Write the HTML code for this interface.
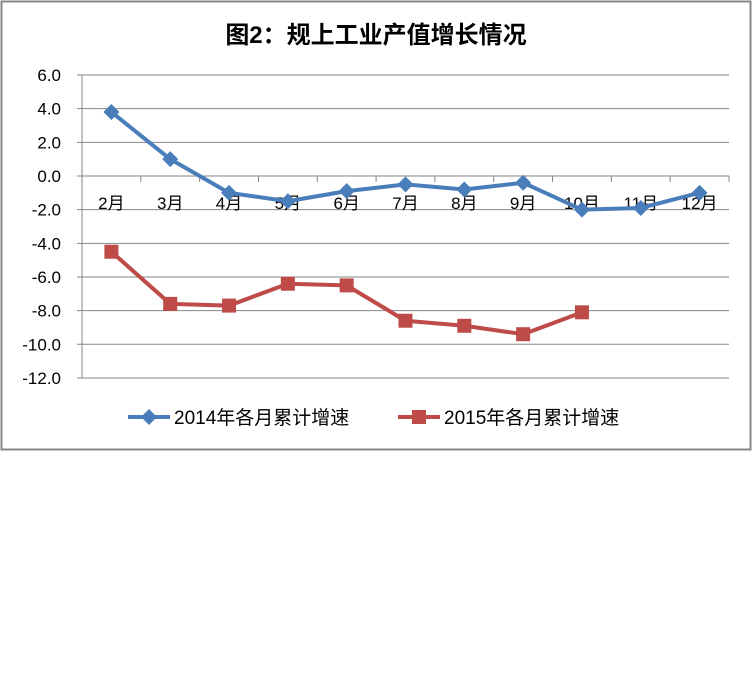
<!DOCTYPE html><html><head><meta charset="utf-8"><style>body{margin:0;background:#fff}svg{display:block}</style></head><body>
<svg id="s" width="753" height="674" xmlns="http://www.w3.org/2000/svg" font-family="Liberation Sans, Noto Sans CJK SC, sans-serif">
<rect x="1.5" y="1.5" width="749" height="448" fill="#fff" stroke="#868686" stroke-width="2"/>
<text x="376" y="43" text-anchor="middle" font-size="24" font-weight="bold" font-family="Liberation Sans, Noto Sans CJK SC, sans-serif">图2：规上工业产值增长情况</text>
<g id="g"></g>
</svg>
<script>
var g=document.getElementById('g'),h='';
function Y(v){return 176-v*16.83}
var L=82,R=729,w=(R-L)/11;
for(var i=0;i<=9;i++){var v=6-2*i,y=Y(v);h+='<line x1="77" x2="'+R+'" y1="'+y+'" y2="'+y+'" stroke="#868686"/>';
h+='<text x="61" y="'+(y+6)+'" text-anchor="end" font-size="17">'+v.toFixed(1)+'</text>';}
h+='<line x1="'+L+'" x2="'+L+'" y1="75" y2="378" stroke="#868686"/>';
for(var i=1;i<=11;i++){var x=L+i*w;h+='<line x1="'+x+'" x2="'+x+'" y1="176" y2="182" stroke="#868686"/>';}
for(var i=0;i<11;i++){h+='<text x="'+(L+(i+.5)*w)+'" y="209" text-anchor="middle" font-size="17">'+(i+2)+'月</text>';}
var a=[3.8,1.0,-1.0,-1.5,-0.9,-0.5,-0.8,-0.4,-2.0,-1.9,-1.0],b=[-4.5,-7.6,-7.7,-6.4,-6.5,-8.6,-8.9,-9.4,-8.1];
function P(d){return d.map(function(v,i){return (L+(i+.5)*w)+','+Y(v)}).join(' ')}
h+='<polyline points="'+P(a)+'" fill="none" stroke="#4a7ebb" stroke-width="4" stroke-linejoin="round"/>';
h+='<polyline points="'+P(b)+'" fill="none" stroke="#be4b48" stroke-width="4" stroke-linejoin="round"/>';
a.forEach(function(v,i){var x=L+(i+.5)*w,y=Y(v);h+='<polygon points="'+x+','+(y-8)+' '+(x+8)+','+y+' '+x+','+(y+8)+' '+(x-8)+','+y+'" fill="#4a7ebb"/>';});
b.forEach(function(v,i){var x=L+(i+.5)*w,y=Y(v);h+='<rect x="'+(x-7)+'" y="'+(y-7)+'" width="14" height="14" fill="#be4b48"/>';});
h+='<line x1="128" x2="170" y1="417" y2="417" stroke="#4a7ebb" stroke-width="4"/><polygon points="149,409 157,417 149,425 141,417" fill="#4a7ebb"/>';
h+='<text x="174" y="424" font-size="19">2014年各月累计增速</text>';
h+='<line x1="398" x2="440" y1="417" y2="417" stroke="#be4b48" stroke-width="4"/><rect x="412" y="410" width="14" height="14" fill="#be4b48"/>';
h+='<text x="444" y="424" font-size="19">2015年各月累计增速</text>';
g.innerHTML=h;
</script></body></html>
